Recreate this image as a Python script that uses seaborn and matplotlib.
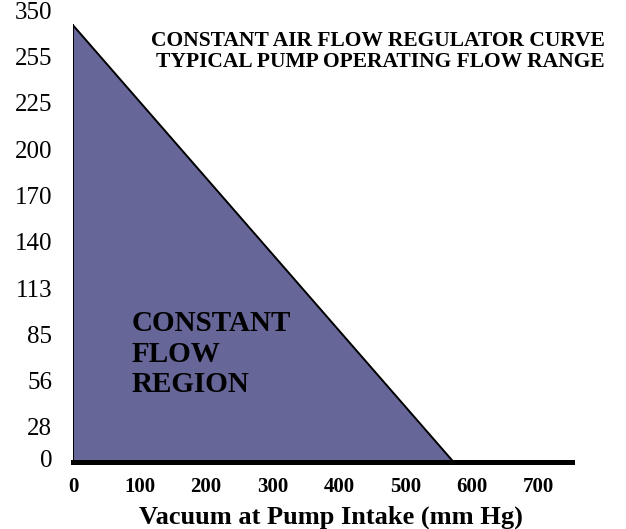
import matplotlib
matplotlib.use("Agg")
import matplotlib.pyplot as plt
import seaborn as sns
import pandas as pd

# ---- data ----
vacuum = [0, 0, 572]          # mm Hg
flow = [267, 0, 0]            # flow (axis units)
x_ticks = [0, 100, 200, 300, 400, 500, 600, 700]
y_tick_labels = ["0", "28", "56", "85", "113", "140", "170", "200", "225", "255", "350"]
title_lines = ["CONSTANT AIR FLOW REGULATOR CURVE", "TYPICAL PUMP OPERATING FLOW RANGE"]
region_label = "CONSTANT\nFLOW\nREGION"
x_title = "Vacuum at Pump Intake (mm Hg)"

sns.set_theme(style="white")
plt.rcParams["font.family"] = ["Liberation Serif", "DejaVu Serif"]

W, H = 626, 529
fig = plt.figure(figsize=(W / 100, H / 100), dpi=100)
ax = fig.add_axes([73 / W, (H - 462) / H, (572 - 73) / W, 462 / H])

df = pd.DataFrame({"vacuum": vacuum, "flow": flow})
closed = pd.concat([df, df.iloc[[0]]], ignore_index=True)
ax.fill(df["vacuum"], df["flow"], facecolor="#666699", edgecolor="none", zorder=2)
sns.lineplot(data=closed, x="vacuum", y="flow", sort=False, color="black",
             linewidth=1.4, ax=ax, zorder=3, estimator=None)

ax.set_xlim(0, 750)
ax.set_ylim(0, 282.4)

# y tick label layout (equal spacing; first label sits on baseline)
step = 28.3
y_pos = [2.4] + [21.4 + step * k for k in range(len(y_tick_labels) - 1)]
ax.set_yticks(y_pos)
ax.set_yticklabels(y_tick_labels, fontsize=18)
ax.set_xticks(x_ticks)
ax.set_xticklabels([str(v) for v in x_ticks], fontsize=15, fontweight="bold")
ax.tick_params(axis="y", length=0, pad=15, colors="black")
ax.tick_params(axis="x", length=0, pad=11, colors="black")
ax.set_xlabel("")
ax.set_ylabel("")

for s in ["top", "right", "left"]:
    ax.spines[s].set_visible(False)
ax.spines["bottom"].set_color("black")
ax.spines["bottom"].set_linewidth(3.6)
ax.spines["bottom"].set_zorder(4)
ax.patch.set_alpha(0)

fig.text(378 / W, 1 - 41 / H, title_lines[0], ha="center", va="center",
         fontsize=15.5, fontweight="bold", color="black")
fig.text(380 / W, 1 - 62 / H, title_lines[1], ha="center", va="center",
         fontsize=15.5, fontweight="bold", color="black")
fig.text(132 / W, 1 - 354 / H, region_label, ha="left", va="center",
         fontsize=21, fontweight="bold", linespacing=1.15, color="black")
fig.text(331 / W, 1 - 517 / H, x_title, ha="center", va="center",
         fontsize=19, fontweight="bold", color="black")

fig.savefig("out.png", dpi=100, facecolor="white")
